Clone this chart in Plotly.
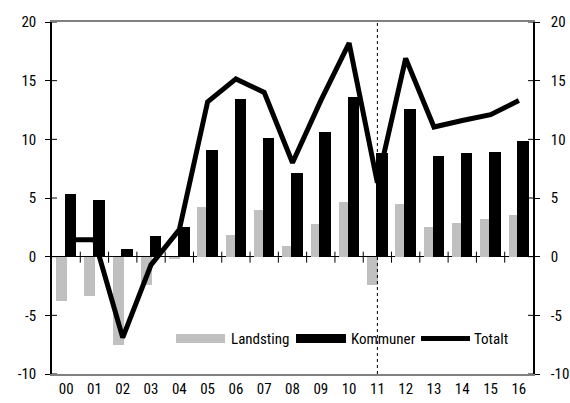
import plotly.graph_objects as go

years = ["00","01","02","03","04","05","06","07","08","09","10","11","12","13","14","15","16"]
landsting = [-3.8,-3.35,-7.55,-2.4,-0.2,4.2,1.85,3.95,0.9,2.8,4.7,-2.45,4.45,2.55,2.85,3.25,3.55]
kommuner = [5.3,4.8,0.65,1.75,2.5,9.1,13.4,10.15,7.1,10.6,13.65,8.85,12.55,8.55,8.8,8.9,9.85]
totalt = [1.45,1.45,-6.9,-0.7,2.3,13.2,15.15,14.0,8.0,13.3,18.2,6.3,16.9,11.05,11.6,12.1,13.3]
y_ticks = [-10, -5, 0, 5, 10, 15, 20]
y_tick_labels = ["-10", "-5", "0", "5", "10", "15", "20"]
forecast_from = "11"
legend_names = ["Landsting", "Kommuner", "Totalt"]

FONT = "Roboto Condensed, Liberation Sans Narrow, sans-serif"
GRAY = "#c0c0c0"
x = list(range(len(years)))
n = len(years)

fig = go.Figure()
fig.add_trace(go.Bar(x=x, y=landsting, name=legend_names[0], marker_color=GRAY,
                     marker_line_width=0, offset=-0.36, width=0.39, showlegend=False))
fig.add_trace(go.Bar(x=x, y=kommuner, name=legend_names[1], marker_color="black",
                     marker_line_width=0, offset=-0.05, width=0.41, showlegend=False))
fig.add_trace(go.Scatter(x=x, y=totalt, name=legend_names[2], mode="lines",
                         line=dict(color="black", width=5), showlegend=False))
fig.add_trace(go.Scatter(x=[None], y=[None], yaxis="y2", showlegend=False, hoverinfo="skip"))

shapes = []
# zero-line crossing ticks at category boundaries
for b in range(n - 1):
    shapes.append(dict(type="line", xref="x", yref="y", x0=b + 0.5, x1=b + 0.5,
                       ysizemode="pixel", yanchor=0, y0=-6, y1=5,
                       line=dict(color="black", width=1)))
# inward parts of y ticks
for v in y_ticks:
    shapes.append(dict(type="line", xref="x", yref="y", y0=v, y1=v,
                       xsizemode="pixel", xanchor=-0.5, x0=0, x1=5,
                       line=dict(color="black", width=1)))
    shapes.append(dict(type="line", xref="x", yref="y", y0=v, y1=v,
                       xsizemode="pixel", xanchor=n - 0.5, x0=-5, x1=0,
                       line=dict(color="black", width=1)))
# dotted forecast divider
fx = years.index(forecast_from)
shapes.append(dict(type="line", xref="x", yref="paper", x0=fx, x1=fx, y0=0, y1=1,
                   line=dict(color="black", width=1, dash="dot")))

# custom legend (long swatches as in the reference)
L, W, T, H = 52, 481, 22, 352
def px(p): return (p - L) / W
def py(p): return (T + H - p) / H
ly = 338.5
shapes.append(dict(type="rect", xref="paper", yref="paper", x0=px(176), x1=px(225),
                   y0=py(343), y1=py(334), fillcolor=GRAY, line_width=0))
shapes.append(dict(type="rect", xref="paper", yref="paper", x0=px(296), x1=px(346),
                   y0=py(343), y1=py(334), fillcolor="black", line_width=0))
shapes.append(dict(type="line", xref="paper", yref="paper", x0=px(421), x1=px(470),
                   y0=py(ly), y1=py(ly), line=dict(color="black", width=5)))
annotations = []
for name, xs in zip(legend_names, [229, 349, 472]):
    annotations.append(dict(text=name, xref="paper", yref="paper", x=px(xs), y=py(ly),
                            xanchor="left", yanchor="middle", showarrow=False,
                            font=dict(family=FONT, size=15, color="black")))

yax = dict(range=[-10, 20], tickvals=y_ticks, ticktext=y_tick_labels, showgrid=False,
           showline=True, linecolor="black", linewidth=1.5, ticks="outside", ticklen=5,
           tickcolor="black", tickfont=dict(size=15), automargin=False)
fig.update_layout(
    width=570, height=403,
    margin=dict(l=52, r=37, t=22, b=29),
    paper_bgcolor="white", plot_bgcolor="white",
    barmode="overlay", bargap=0,
    font=dict(family=FONT, size=15, color="black"),
    shapes=shapes, annotations=annotations,
    xaxis=dict(range=[-0.5, n - 0.5], tickvals=x, ticktext=years, ticks="",
               showgrid=False, zeroline=False, showline=True, mirror=True,
               linecolor="#808080", linewidth=1.5, tickfont=dict(size=15), automargin=False),
    yaxis=dict(**yax, zeroline=True, zerolinecolor="black", zerolinewidth=1,
               ticklabelstandoff=6),
    yaxis2=dict(**yax, overlaying="y", side="right", zeroline=False,
                ticklabelstandoff=8, anchor="x"),
)
fig.write_html("out.html", config={"displayModeBar": False},
               post_script="document.body.style.margin='0px';")
